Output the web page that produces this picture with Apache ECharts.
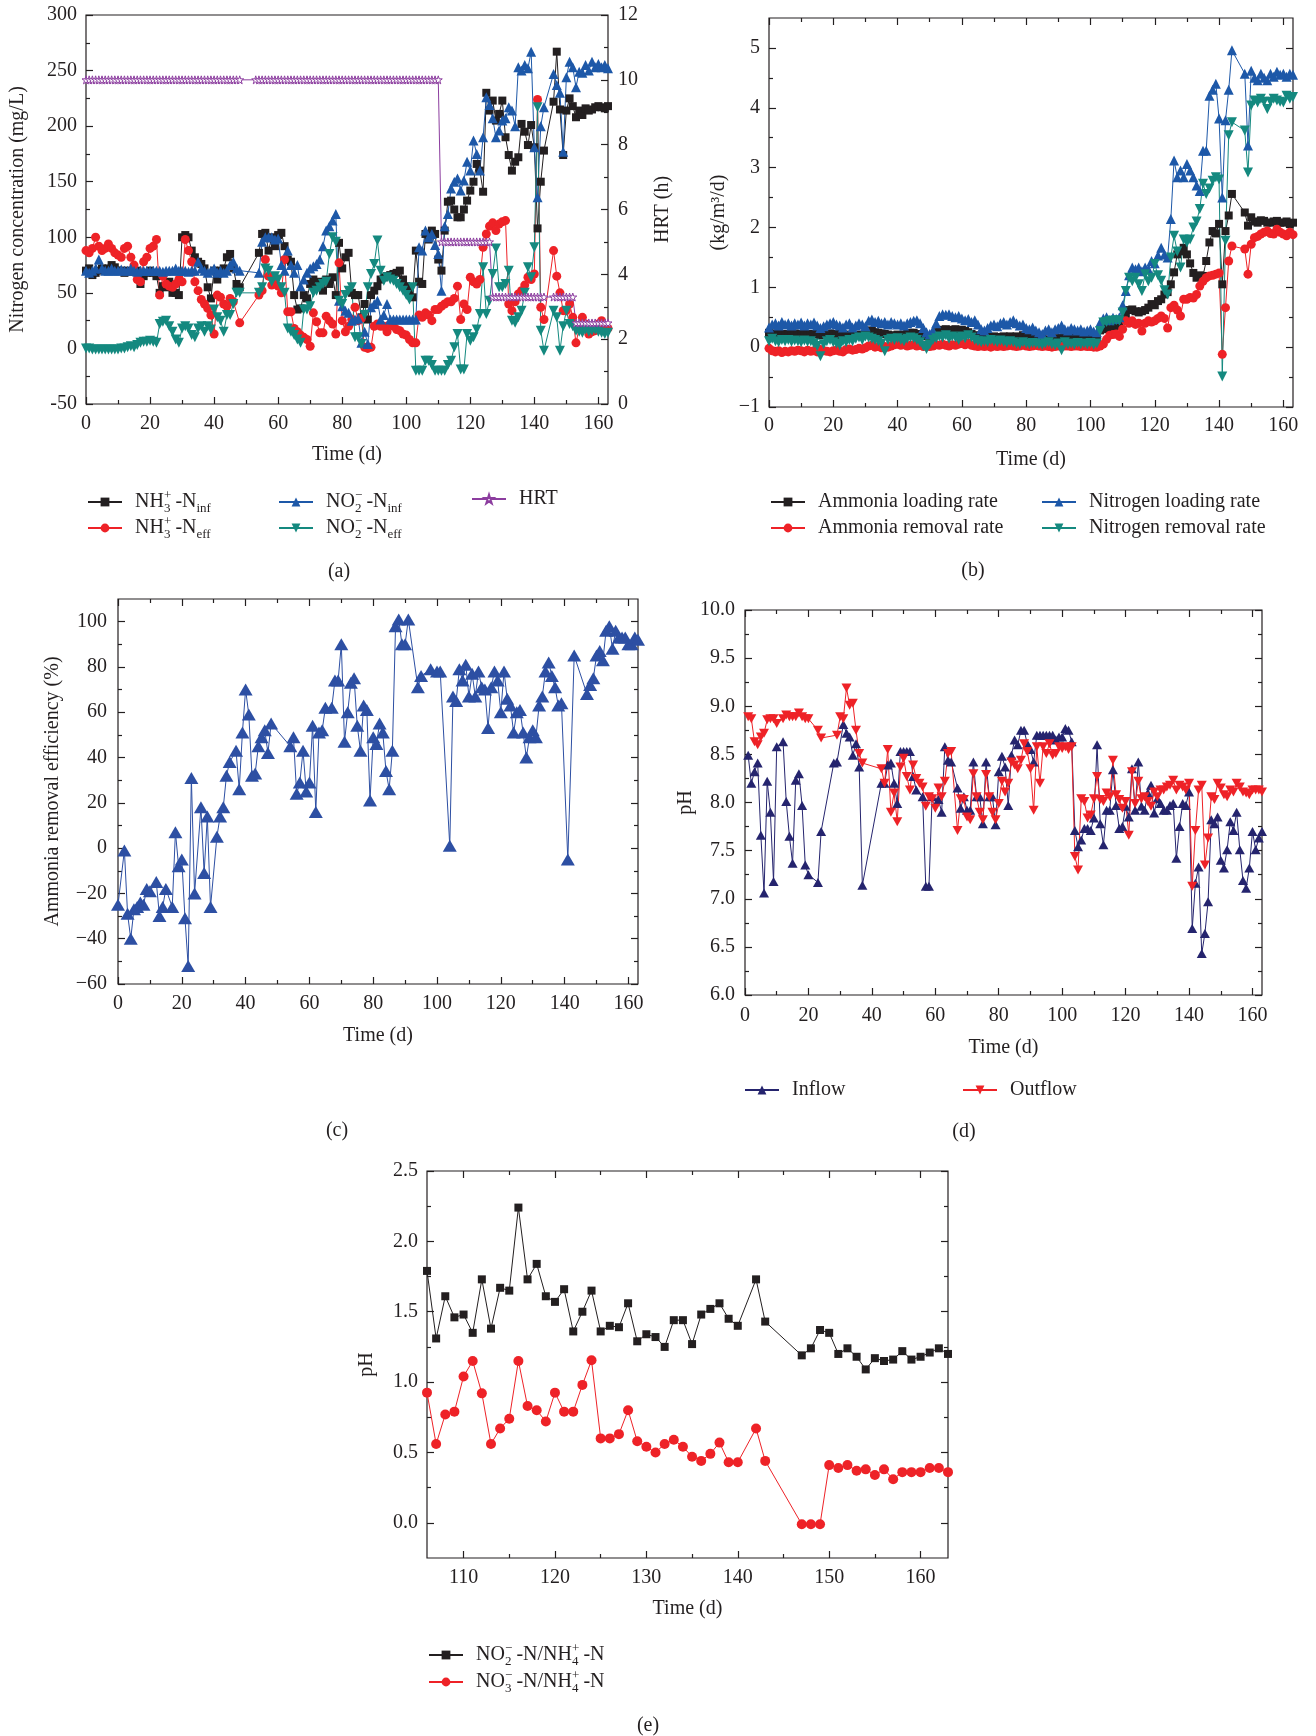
<!DOCTYPE html>
<html>
<head>
<meta charset="utf-8">
<script src="https://cdn.jsdelivr.net/npm/echarts@6/dist/echarts.min.js"></script>
<style>
html, body { margin: 0; padding: 0; background: #fff; }
#main { width: 1316px; height: 1736px; }
</style>
</head>
<body>
<div id="main"></div>
<script>
// ---------- tick labels ----------
const dayTicks = [0, 20, 40, 60, 80, 100, 120, 140, 160];
const dayMinor = [10, 30, 50, 70, 90, 110, 130, 150];
const aConcTicks = [-50, 0, 50, 100, 150, 200, 250, 300];
const aConcMinor = [-25, 25, 75, 125, 175, 225, 275];
const aHrtTicks = [0, 2, 4, 6, 8, 10, 12];
const aHrtMinor = [1, 3, 5, 7, 9, 11];
const bRateTicks = [-1, 0, 1, 2, 3, 4, 5];
const bRateMinor = [-0.5, 0.5, 1.5, 2.5, 3.5, 4.5];
const cEffTicks = [-60, -40, -20, 0, 20, 40, 60, 80, 100];
const cEffMinor = [-50, -30, -10, 10, 30, 50, 70, 90];
const dPhTicks = [6, 6.5, 7, 7.5, 8, 8.5, 9, 9.5, 10];
const dPhMinor = [6.25, 6.75, 7.25, 7.75, 8.25, 8.75, 9.25, 9.75];
const eDayTicks = [110, 120, 130, 140, 150, 160];
const eDayMinor = [115, 125, 135, 145, 155];
const eRatioTicks = [0, 0.5, 1, 1.5, 2, 2.5];
const eRatioMinor = [0.25, 0.75, 1.25, 1.75, 2.25];

// ---------- (a) nitrogen concentration, [day, mg/L] ----------
const nh3Inf = [
  [0,70],[1,72],[2,66],[3,68],[4,70],[5,72],[6,70],[7,72],[8,75],[9,73],
  [10,70],[11,70],[12,68],[13,70],[14,69],[15,70],[16,70],[17,58],[18,65],[19,68],
  [20,70],[21,68],[22,65],[23,50],[24,56],[25,55],[26,60],[27,50],[28,50],[29,48],
  [30,100],[31,102],[32,100],[33,88],[34,82],[35,78],[36,76],[37,72],[38,55],[39,45],
  [40,70],[41,62],[42,70],[43,72],[44,82],[45,85],[46,72],[47,58],[48,55],
  [54,86],[55,103],[56,104],[57,88],[58,100],[59,92],
  [60,102],[61,104],[62,92],[63,80],[64,78],[65,48],[66,35],[67,36],[68,48],[69,45],
  [70,58],[71,62],[72,55],[73,60],[74,52],[75,62],[76,58],[77,64],[78,48],[79,95],
  [80,72],[81,82],[82,86],[83,50],[84,48],[85,48],[86,28],[87,40],[88,26],[89,48],
  [90,52],[91,56],[92,62],[93,64],[94,65],[95,66],[96,67],[97,68],[98,70],[99,62],
  [100,56],[101,52],[102,46],[103,88],[104,60],[105,58],[106,103],[107,98],[108,106],[109,103],
  [110,80],[111,70],[112,106],[113,132],[114,133],[115,125],[116,118],[117,118],[118,125],[119,133],
  [120,142],[121,150],[122,166],[123,160],[124,141],[125,230],[126,214],[127,223],[128,205],[129,211],
  [130,223],[131,190],[132,174],[133,160],[134,168],[135,172],[136,202],[137,195],[138,183],[139,201],
  [140,181],[141,108],[142,150],[143,178],
  [146,222],[147,267],[148,215],[149,174],
  [150,214],[151,225],[152,218],[153,208],[154,214],[155,210],[156,216],[157,214],[158,215],[159,217],
  [160,218],[161,217],[162,216],[163,218]
];
const nh3Eff = [
  [0,88],[1,86],[2,90],[3,100],[4,92],[5,88],[6,90],[7,94],[8,90],[9,86],
  [10,84],[11,82],[12,90],[13,92],[14,82],[15,75],[16,62],[17,60],[18,78],[19,82],
  [20,90],[21,92],[22,98],[23,48],[24,65],[25,58],[26,56],[27,55],[28,58],[29,62],
  [30,60],[31,98],[32,88],[33,78],[34,60],[35,52],[36,44],[37,40],[38,36],[39,30],
  [40,13],[41,48],[42,46],[43,40],[44,38],[45,45],[46,42],[48,23],
  [54,48],[55,52],[56,80],[57,65],[58,57],[59,62],
  [60,56],[61,50],[62,80],[63,33],[64,33],[65,18],[66,15],[67,12],[68,10],[69,8],
  [70,2],[71,32],[72,24],[73,14],[74,14],[75,29],[76,25],[77,22],[78,13],[79,77],
  [80,25],[81,15],[82,20],[83,26],[84,37],[85,25],[86,27],[87,1],[88,0],[89,1],
  [90,20],[91,22],[92,20],[93,20],[94,15],[95,22],[96,20],[97,17],[98,16],[99,13],
  [100,12],[101,8],[102,5],[103,5],[104,30],[105,28],[106,32],[107,30],[108,25],[109,35],
  [110,35],[111,38],[112,40],[113,42],[114,42],[115,45],[116,56],[117,26],[118,40],[119,35],
  [120,64],[121,60],[122,58],[123,62],[124,91],[125,103],[126,110],[127,113],[128,106],[129,112],
  [130,114],[131,115],[132,40],[133,34],[134,42],[135,49],[136,52],[137,57],[138,64],[139,62],
  [140,67],[141,224],[142,37],[143,26],
  [146,88],[147,65],[148,50],[149,34],
  [150,34],[151,40],[152,28],[153,5],[154,18],[155,28],[156,22],[157,13],[158,15],[159,16],
  [160,22],[161,25],[162,20],[163,18]
];
const no2Inf = [
  [0,70],[1,68],[2,70],[3,72],[4,80],[5,72],[6,70],[7,70],[8,72],[9,70],
  [10,70],[11,71],[12,70],[13,70],[14,72],[15,70],[16,69],[17,70],[18,70],[19,70],
  [20,70],[21,70],[22,70],[23,70],[24,69],[25,70],[26,70],[27,70],[28,72],[29,70],
  [30,70],[31,70],[32,69],[33,70],[34,70],[35,78],[36,72],[37,70],[38,68],[39,70],
  [40,72],[41,68],[42,70],[43,68],[44,70],[45,75],[46,78],[47,72],[48,70],
  [54,68],[55,96],[56,100],[57,100],[58,100],[59,98],
  [60,99],[61,75],[62,70],[63,88],[64,75],[65,68],[66,75],[67,56],[68,62],[69,68],
  [70,72],[71,74],[72,76],[73,80],[74,92],[75,106],[76,110],[77,115],[78,121],[79,43],
  [80,38],[81,34],[82,32],[83,25],[84,26],[85,27],[86,5],[87,15],[88,4],[89,37],
  [90,40],[91,43],[92,26],[93,30],[94,40],[95,26],[96,26],[97,26],[98,26],[99,26],
  [100,26],[101,26],[102,26],[103,26],[104,91],[105,88],[106,106],[107,100],[108,103],[109,93],
  [110,85],[111,52],[112,110],[113,121],[114,144],[115,150],[116,153],[117,142],[118,151],[119,168],
  [120,160],[121,187],[122,175],[123,160],[124,190],[125,226],[126,219],[127,207],[128,190],[129,196],
  [130,205],[131,207],[132,217],[133,214],[134,200],[135,253],[136,250],[137,255],[138,252],[139,267],
  [140,181],[141,136],[142,200],[143,217],
  [146,247],[147,237],[148,230],[149,177],
  [150,244],[151,258],[152,253],[153,235],[154,249],[155,248],[156,255],[157,250],[158,258],[159,253],
  [160,256],[161,253],[162,255],[163,252]
];
const no2Eff = [
  [0,0],[1,0],[2,-1],[3,-1],[4,-1],[5,-1],[6,-1],[7,-1],[8,-1],[9,-1],
  [10,-1],[11,0],[12,0],[13,1],[14,2],[15,1],[16,3],[17,5],[18,6],[19,6],
  [20,7],[21,6],[22,5],[23,22],[24,24],[25,25],[26,20],[27,15],[28,8],[29,5],
  [30,18],[31,20],[32,18],[33,12],[34,10],[35,18],[36,20],[37,15],[38,20],[39,17],
  [40,35],[41,28],[42,25],[43,15],[44,30],[45,30],[46,40],[47,50],[48,50],
  [54,50],[55,55],[56,72],[57,70],[58,60],[59,65],
  [60,62],[61,55],[62,50],[63,18],[64,15],[65,12],[66,8],[67,5],[68,35],[69,35],
  [70,38],[71,50],[72,52],[73,55],[74,58],[75,60],[76,85],[77,100],[78,96],[79,43],
  [80,40],[81,48],[82,52],[83,55],[84,10],[85,10],[86,4],[87,30],[88,55],[89,67],
  [90,76],[91,97],[92,70],[93,61],[94,64],[95,62],[96,61],[97,58],[98,55],[99,52],
  [100,48],[101,44],[102,55],[103,-20],[104,-20],[105,-20],[106,-11],[107,-11],[108,-15],[109,-20],
  [110,-20],[111,-20],[112,-20],[113,-15],[114,-11],[115,1],[116,13],[117,-19],[118,-19],[119,13],
  [120,7],[121,10],[122,17],[123,31],[124,73],[125,31],[126,43],[127,67],[128,90],[129,55],
  [130,55],[131,58],[132,70],[133,25],[134,23],[135,28],[136,34],[137,50],[138,73],[139,64],
  [140,91],[141,217],[142,16],[143,-2],
  [146,34],[147,28],[148,-2],[149,20],
  [150,34],[151,22],[152,20],[153,16],[154,15],[155,14],[156,17],[157,15],[158,16],[159,17],
  [160,15],[161,14],[162,13],[163,14]
];
const hrt = [
  [0,10],[1,10],[2,10],[3,10],[4,10],[5,10],[6,10],[7,10],[8,10],[9,10],
  [10,10],[11,10],[12,10],[13,10],[14,10],[15,10],[16,10],[17,10],[18,10],[19,10],
  [20,10],[21,10],[22,10],[23,10],[24,10],[25,10],[26,10],[27,10],[28,10],[29,10],
  [30,10],[31,10],[32,10],[33,10],[34,10],[35,10],[36,10],[37,10],[38,10],[39,10],
  [40,10],[41,10],[42,10],[43,10],[44,10],[45,10],[46,10],[47,10],[48,10],
  [53,10],[54,10],[55,10],[56,10],[57,10],[58,10],[59,10],
  [60,10],[61,10],[62,10],[63,10],[64,10],[65,10],[66,10],[67,10],[68,10],[69,10],
  [70,10],[71,10],[72,10],[73,10],[74,10],[75,10],[76,10],[77,10],[78,10],[79,10],
  [80,10],[81,10],[82,10],[83,10],[84,10],[85,10],[86,10],[87,10],[88,10],[89,10],
  [90,10],[91,10],[92,10],[93,10],[94,10],[95,10],[96,10],[97,10],[98,10],[99,10],
  [100,10],[101,10],[102,10],[103,10],[104,10],[105,10],[106,10],[107,10],[108,10],[109,10],
  [110,10],[111,5],[112,5],[113,5],[114,5],[115,5],[116,5],[117,5],[118,5],[119,5],
  [120,5],[121,5],[122,5],[123,5],[124,5],[125,5],[126,5],[127,3.3],[128,3.3],[129,3.3],
  [130,3.3],[131,3.3],[132,3.3],[133,3.3],[134,3.3],[135,3.3],[136,3.3],[137,3.3],[138,3.3],[139,3.3],
  [140,3.3],[141,3.3],[142,3.3],[143,3.3],
  [146,3.3],[147,3.3],[148,3.3],[149,3.3],[150,3.3],[151,3.3],[152,3.3],
  [153,2.5],[154,2.5],[155,2.5],[156,2.5],[157,2.5],[158,2.5],[159,2.5],
  [160,2.5],[161,2.5],[162,2.5],[163,2.5]
];

// ---------- (b) loading / removal rates, [day, kg/m3/d] ----------
const ammLoad = [
  [0,0.24],[1,0.22],[2,0.23],[3,0.21],[4,0.22],[5,0.20],[6,0.22],[7,0.21],[8,0.23],[9,0.22],
  [10,0.21],[11,0.22],[12,0.20],[13,0.22],[14,0.21],[15,0.22],[16,0.20],[17,0.21],[18,0.22],[19,0.23],
  [20,0.21],[21,0.22],[22,0.20],[23,0.19],[24,0.21],[25,0.20],[26,0.19],[27,0.20],[28,0.21],[29,0.20],
  [30,0.26],[31,0.28],[32,0.27],[33,0.25],[34,0.24],[35,0.23],[36,0.22],[37,0.21],[38,0.18],[39,0.20],
  [40,0.21],[41,0.20],[42,0.21],[43,0.22],[44,0.24],[45,0.24],[46,0.22],[47,0.20],[48,0.19],[49,0.18],
  [50,0.17],[51,0.20],[52,0.25],[53,0.28],[54,0.29],[55,0.30],[56,0.28],[57,0.29],[58,0.30],[59,0.28],
  [60,0.29],[61,0.27],[62,0.25],[63,0.22],[64,0.20],[65,0.17],[66,0.15],[67,0.16],[68,0.17],[69,0.16],
  [70,0.18],[71,0.17],[72,0.16],[73,0.18],[74,0.17],[75,0.18],[76,0.17],[77,0.18],[78,0.16],[79,0.20],
  [80,0.18],[81,0.17],[82,0.18],[83,0.16],[84,0.15],[85,0.14],[86,0.12],[87,0.13],[88,0.12],[89,0.14],
  [90,0.15],[91,0.16],[92,0.17],[93,0.17],[94,0.18],[95,0.18],[96,0.18],[97,0.19],[98,0.19],[99,0.17],
  [100,0.16],[101,0.15],[102,0.14],[103,0.28],[104,0.30],[105,0.32],[106,0.33],[107,0.35],[108,0.36],[109,0.35],
  [110,0.45],[111,0.55],[112,0.62],[113,0.63],[114,0.60],[115,0.58],[116,0.60],[117,0.62],[118,0.66],[119,0.72],
  [120,0.70],[121,0.77],[122,0.80],[123,0.88],[124,0.92],[125,1.05],[126,1.25],[127,1.55],[128,1.60],[129,1.66],
  [130,1.55],[131,1.40],[132,1.24],[133,1.16],[134,1.20],[135,1.19],[136,1.44],[137,1.75],[138,1.94],[139,1.90],
  [140,2.06],[141,1.05],[142,1.94],[143,2.20],[144,2.56],
  [148,2.25],[149,2.03],[150,2.17],[151,2.10],[152,2.08],[153,2.12],[154,2.11],[155,2.08],[156,2.08],[157,2.10],
  [158,2.11],[159,2.08],[160,2.08],[161,2.10],[162,2.06],[163,2.08]
];
const ammRem = [
  [0,-0.02],[1,-0.06],[2,-0.08],[3,-0.06],[4,-0.09],[5,-0.07],[6,-0.08],[7,-0.06],[8,-0.07],[9,-0.05],
  [10,-0.06],[11,-0.08],[12,-0.05],[13,-0.07],[14,-0.06],[15,-0.08],[16,-0.04],[17,-0.06],[18,-0.07],[19,-0.08],
  [20,-0.06],[21,-0.05],[22,-0.07],[23,-0.08],[24,-0.04],[25,-0.03],[26,-0.05],[27,-0.04],[28,-0.02],[29,-0.03],
  [30,-0.01],[31,0.02],[32,0.03],[33,0.00],[34,0.01],[35,-0.01],[36,0.01],[37,0.00],[38,0.02],[39,0.04],
  [40,0.05],[41,0.03],[42,0.04],[43,0.02],[44,0.03],[45,0.04],[46,0.02],[47,0.03],[48,0.01],[49,0.02],
  [50,0.01],[51,0.02],[52,0.04],[53,0.03],[54,0.05],[55,0.03],[56,0.02],[57,0.04],[58,0.03],[59,0.05],
  [60,0.06],[61,0.04],[62,0.07],[63,0.03],[64,0.02],[65,0.01],[66,0.02],[67,0.01],[68,0.02],[69,0.00],
  [70,0.02],[71,0.01],[72,0.02],[73,0.01],[74,0.02],[75,0.03],[76,0.02],[77,0.01],[78,0.02],[79,0.04],
  [80,0.02],[81,0.01],[82,0.02],[83,0.03],[84,0.02],[85,0.01],[86,0.02],[87,0.01],[88,0.00],[89,0.01],
  [90,0.02],[91,0.01],[92,0.02],[93,0.02],[94,0.01],[95,0.02],[96,0.02],[97,0.01],[98,0.02],[99,0.01],
  [100,0.01],[101,0.00],[102,0.00],[103,0.02],[104,0.05],[105,0.13],[106,0.20],[107,0.21],[108,0.22],[109,0.18],
  [110,0.30],[111,0.44],[112,0.40],[113,0.44],[114,0.38],[115,0.40],[116,0.27],[117,0.40],[118,0.44],[119,0.42],
  [120,0.44],[121,0.48],[122,0.52],[123,0.48],[124,0.32],[125,0.66],[126,0.70],[127,0.62],[128,0.52],[129,0.80],
  [130,0.80],[131,0.83],[132,0.82],[133,0.88],[134,1.02],[135,1.10],[136,1.16],[137,1.19],[138,1.20],[139,1.22],
  [140,1.24],[141,-0.12],[142,0.66],[143,1.44],[144,1.69],
  [148,1.64],[149,1.22],[150,1.72],[151,1.83],[152,1.85],[153,1.89],[154,1.92],[155,1.94],[156,1.90],[157,1.89],
  [158,1.97],[159,1.92],[160,1.89],[161,1.86],[162,1.92],[163,1.88]
];
const nLoad = [
  [0,0.33],[1,0.38],[2,0.40],[3,0.36],[4,0.42],[5,0.38],[6,0.40],[7,0.36],[8,0.40],[9,0.38],
  [10,0.41],[11,0.36],[12,0.40],[13,0.38],[14,0.41],[15,0.36],[16,0.32],[17,0.35],[18,0.38],[19,0.40],
  [20,0.42],[21,0.38],[22,0.36],[23,0.33],[24,0.38],[25,0.40],[26,0.33],[27,0.36],[28,0.40],[29,0.38],
  [30,0.35],[31,0.44],[32,0.46],[33,0.42],[34,0.44],[35,0.40],[36,0.42],[37,0.38],[38,0.42],[39,0.40],
  [40,0.38],[41,0.40],[42,0.36],[43,0.40],[44,0.42],[45,0.44],[46,0.45],[47,0.40],[48,0.32],[49,0.25],
  [50,0.22],[51,0.28],[52,0.40],[53,0.52],[54,0.55],[55,0.54],[56,0.55],[57,0.52],[58,0.50],[59,0.52],
  [60,0.48],[61,0.45],[62,0.47],[63,0.42],[64,0.45],[65,0.38],[66,0.30],[67,0.28],[68,0.32],[69,0.36],
  [70,0.38],[71,0.35],[72,0.40],[73,0.42],[74,0.38],[75,0.42],[76,0.45],[77,0.40],[78,0.36],[79,0.38],
  [80,0.32],[81,0.30],[82,0.33],[83,0.28],[84,0.25],[85,0.22],[86,0.28],[87,0.30],[88,0.25],[89,0.30],
  [90,0.32],[91,0.36],[92,0.30],[93,0.28],[94,0.32],[95,0.30],[96,0.28],[97,0.30],[98,0.26],[99,0.28],
  [100,0.30],[101,0.26],[102,0.25],[103,0.41],[104,0.48],[105,0.50],[106,0.45],[107,0.49],[108,0.47],[109,0.50],
  [110,0.70],[111,0.94],[112,1.20],[113,1.33],[114,1.30],[115,1.33],[116,1.27],[117,1.33],[118,1.30],[119,1.44],
  [120,1.40],[121,1.53],[122,1.66],[123,1.55],[124,1.50],[125,2.14],[126,3.12],[127,2.84],[128,2.95],[129,2.84],
  [130,3.06],[131,2.95],[132,2.84],[133,2.70],[134,2.61],[135,3.28],[136,3.28],[137,4.20],[138,4.30],[139,4.40],
  [140,3.82],[141,2.50],[142,3.79],[143,4.30],[144,4.96],
  [148,4.57],[149,3.37],[150,4.62],[151,4.50],[152,4.46],[153,4.57],[154,4.50],[155,4.46],[156,4.57],[157,4.52],
  [158,4.60],[159,4.55],[160,4.57],[161,4.52],[162,4.57],[163,4.55]
];
const nRem = [
  [0,0.10],[1,0.14],[2,0.10],[3,0.08],[4,0.12],[5,0.10],[6,0.12],[7,0.09],[8,0.11],[9,0.10],
  [10,0.08],[11,0.11],[12,0.09],[13,0.10],[14,0.06],[15,0.02],[16,-0.15],[17,0.05],[18,0.10],[19,0.12],
  [20,0.08],[21,0.06],[22,0.03],[23,0.10],[24,0.08],[25,0.12],[26,0.10],[27,0.14],[28,0.16],[29,0.12],
  [30,0.18],[31,0.16],[32,0.14],[33,0.12],[34,0.10],[35,0.06],[36,-0.07],[37,0.12],[38,0.14],[39,0.12],
  [40,0.15],[41,0.12],[42,0.10],[43,0.14],[44,0.16],[45,0.15],[46,0.12],[47,0.08],[48,0.02],[49,-0.03],
  [50,0.05],[51,0.12],[52,0.15],[53,0.18],[54,0.16],[55,0.20],[56,0.14],[57,0.18],[58,0.16],[59,0.12],
  [60,0.18],[61,0.15],[62,0.20],[63,0.16],[64,0.12],[65,0.10],[66,0.08],[67,0.10],[68,0.08],[69,0.12],
  [70,0.10],[71,0.08],[72,0.11],[73,0.09],[74,0.07],[75,0.10],[76,0.08],[77,0.06],[78,0.05],[79,0.08],
  [80,0.06],[81,0.05],[82,0.07],[83,0.06],[84,0.05],[85,0.04],[86,0.06],[87,0.08],[88,0.05],[89,0.03],
  [90,0.06],[91,-0.05],[92,0.08],[93,0.05],[94,0.06],[95,0.04],[96,0.07],[97,0.05],[98,0.06],[99,0.05],
  [100,0.07],[101,0.04],[102,0.06],[103,0.27],[104,0.41],[105,0.42],[106,0.44],[107,0.44],[108,0.45],[109,0.44],
  [110,0.58],[111,0.94],[112,1.16],[113,1.10],[114,1.16],[115,1.05],[116,0.94],[117,1.22],[118,1.10],[119,1.16],
  [120,1.39],[121,1.20],[122,1.11],[123,0.95],[124,0.88],[125,1.50],[126,1.86],[127,1.60],[128,1.33],[129,1.80],
  [130,1.75],[131,1.80],[132,2.00],[133,2.10],[134,2.31],[135,2.73],[136,2.56],[137,2.65],[138,2.78],[139,2.84],
  [140,2.80],[141,-0.49],[142,1.78],[143,3.54],[144,3.76],
  [148,3.62],[149,2.92],[150,4.04],[151,4.12],[152,4.09],[153,4.15],[154,4.10],[155,3.98],[156,4.10],[157,4.15],
  [158,4.12],[159,4.10],[160,4.09],[161,4.20],[162,4.15],[163,4.18]
];

// ---------- (c) ammonia removal efficiency, [day, %] ----------
const ammEff = [
  [0,-25],[2,-1],[3,-29],[4,-40],[5,-27],[6,-26],[7,-24],[8,-25],[9,-18],[10,-19],
  [12,-15],[13,-30],[14,-26],[15,-18],[17,-26],[18,7],[19,-8],[20,-5],[21,-31],[22,-52],
  [23,31],[24,-20],[26,18],[27,-11],[28,14],[29,-26],[31,5],[32,14],[33,18],[34,32],
  [35,38],[37,43],[38,26],[39,51],[40,70],[41,59],[42,32],[43,33],[44,45],[45,49],
  [46,52],[47,42],[48,55],[54,45],[55,49],[56,24],[57,29],[58,43],[59,25],[60,29],
  [61,54],[62,16],[63,51],[64,52],[65,62],[67,62],[68,74],[69,74],[70,90],[71,47],
  [72,60],[73,73],[74,75],[75,54],[76,43],[77,63],[78,61],[79,21],[80,49],[81,46],
  [82,55],[83,51],[84,34],[85,26],[86,43],[87,98],[88,101],[89,90],[90,90],[91,101],
  [94,71],[95,76],[98,79],[100,78],[101,78],[104,1],[105,67],[106,65],[107,79],[108,74],
  [109,81],[110,67],[111,77],[112,67],[113,78],[114,71],[115,70],[116,53],[117,71],[118,78],
  [119,74],[120,60],[121,78],[122,66],[123,63],[124,51],[125,60],[126,61],[127,51],[128,40],
  [129,49],[130,52],[131,49],[132,63],[133,67],[134,78],[135,82],[136,76],[137,71],[138,63],
  [139,64],[141,-5],[143,85],[147,68],[148,72],[149,75],[150,85],[151,87],[152,83],[153,96],
  [154,98],[155,88],[156,96],[157,93],[158,93],[159,93],[160,90],[161,90],[162,93],[163,92]
];

// ---------- (d) pH, [day, pH] ----------
const phIn = [
  [1,8.49],[2,8.20],[3,8.32],[4,8.41],[5,7.66],[6,7.06],[7,8.22],[8,7.90],[9,7.18],[10,8.58],
  [12,8.63],[13,8.01],[14,7.65],[15,7.37],[16,8.23],[17,8.30],[18,7.97],[19,7.35],[20,7.25],
  [23,7.17],[24,7.70],[28,8.41],[29,8.42],[31,8.81],[32,8.72],[33,8.68],[34,8.49],[35,8.61],[36,8.37],
  [37,7.14],[43,8.20],[44,8.20],[45,8.39],[46,8.41],[47,8.20],[48,7.99],[49,8.53],[50,8.53],
  [51,8.53],[52,8.53],[53,8.27],[54,8.13],[56,8.06],[57,7.13],[58,7.13],[59,8.06],[61,8.03],[62,7.90],
  [63,8.58],[64,8.44],[65,8.42],[67,8.15],[68,7.94],[69,8.06],[70,7.92],[71,7.92],[72,8.42],[73,8.06],
  [74,8.06],[75,7.78],[76,8.42],[77,8.06],[78,8.06],[79,7.77],[80,8.32],[81,8.48],[82,8.37],[83,7.97],
  [84,8.49],[85,8.65],[86,8.60],[87,8.75],[88,8.75],[89,8.61],[90,8.55],[91,8.42],[92,8.70],[93,8.70],
  [94,8.70],[95,8.70],[96,8.70],[97,8.70],[98,8.65],[99,8.68],[100,8.68],[101,8.77],[102,8.75],[103,8.63],
  [104,7.71],[105,7.54],[106,7.61],[107,7.73],[108,7.73],[109,7.71],[110,7.84],[111,8.60],[112,7.78],[113,7.56],
  [114,7.92],[115,7.92],[116,8.34],[117,7.97],[118,7.73],[119,7.75],[120,7.96],[121,7.85],[122,8.35],[123,7.92],
  [124,8.42],[125,7.96],[126,7.92],[127,8.10],[128,8.18],[129,7.89],[130,8.04],[131,7.99],[132,7.92],[133,7.92],
  [134,7.97],[135,7.99],[136,7.42],[137,7.75],[138,7.99],[139,7.97],[140,8.11],[141,6.69],[142,7.16],[143,7.33],
  [144,6.43],[145,6.64],[146,6.97],[147,7.82],[148,7.78],[149,7.85],[150,7.40],[151,7.32],[152,7.51],[153,7.80],
  [154,7.71],[155,7.90],[156,7.51],[157,7.19],[158,7.11],[159,7.32],[160,7.70],[161,7.51],[162,7.63],[163,7.70]
];
const phOut = [
  [1,8.89],[2,8.87],[3,8.63],[4,8.60],[5,8.68],[6,8.72],[7,8.86],[8,8.87],[9,8.87],[10,8.82],
  [12,8.87],[13,8.91],[14,8.89],[15,8.89],[16,8.89],[17,8.93],[18,8.89],[19,8.87],[20,8.87],
  [23,8.75],[24,8.67],[29,8.70],[30,8.89],[31,8.87],[32,9.19],[33,9.01],[34,9.03],[35,8.75],[36,8.51],
  [37,8.41],[43,8.35],[44,8.20],[45,8.55],[46,7.90],[47,8.10],[48,7.80],[49,8.37],[50,8.46],
  [51,8.27],[52,8.13],[53,8.39],[54,8.25],[55,8.20],[56,8.16],[57,7.96],[58,8.06],[59,8.04],[60,7.94],
  [61,8.15],[62,8.06],[63,8.22],[64,8.51],[65,8.53],[67,7.71],[68,8.04],[69,8.03],[70,7.85],[71,7.82],
  [72,8.30],[73,8.06],[74,7.90],[75,7.82],[76,8.29],[77,8.06],[78,7.90],[79,7.82],[80,7.99],[81,8.22],
  [82,8.11],[83,8.20],[84,8.42],[85,8.39],[86,8.35],[87,8.44],[88,8.61],[89,8.53],[90,8.35],[91,7.92],
  [92,8.58],[93,8.20],[94,8.58],[95,8.51],[96,8.61],[97,8.49],[98,8.51],[99,8.58],[100,8.56],[101,8.58],
  [102,8.55],[103,8.58],[104,7.44],[105,7.30],[106,8.04],[107,8.01],[108,7.84],[109,7.87],[110,8.04],[111,8.27],
  [112,8.03],[113,8.01],[114,8.10],[115,8.06],[116,8.44],[117,8.08],[118,8.03],[119,7.94],[120,8.01],[121,7.66],
  [122,8.32],[123,7.99],[124,8.22],[125,8.04],[126,8.06],[127,8.01],[128,7.96],[129,8.11],[130,8.06],[131,8.13],
  [132,8.13],[133,8.16],[134,8.18],[135,8.23],[136,8.13],[137,8.18],[138,8.16],[139,8.13],[140,8.20],[141,7.13],
  [142,7.71],[143,8.13],[144,8.18],[145,7.35],[146,7.63],[147,8.06],[148,8.03],[149,8.20],[150,8.15],[151,8.08],
  [152,8.06],[153,8.13],[154,8.11],[155,8.20],[156,8.16],[157,8.11],[158,8.10],[159,8.08],[160,8.13],[161,8.13],
  [162,8.13],[163,8.11]
];

// ---------- (e) ratios, [day, ratio] ----------
const no2Ratio = [
  [106,1.79],[107,1.31],[108,1.61],[109,1.46],[110,1.48],[111,1.35],[112,1.73],[113,1.38],[114,1.67],[115,1.65],
  [116,2.24],[117,1.73],[118,1.84],[119,1.61],[120,1.57],[121,1.66],[122,1.36],[123,1.50],[124,1.65],[125,1.36],
  [126,1.40],[127,1.39],[128,1.56],[129,1.29],[130,1.34],[131,1.32],[132,1.25],[133,1.44],[134,1.44],[135,1.27],
  [136,1.48],[137,1.52],[138,1.56],[139,1.45],[140,1.40],[142,1.73],[143,1.43],[147,1.19],[148,1.24],[149,1.37],
  [150,1.35],[151,1.20],[152,1.24],[153,1.18],[154,1.09],[155,1.17],[156,1.15],[157,1.16],[158,1.22],[159,1.16],
  [160,1.18],[161,1.21],[162,1.24],[163,1.20]
];
const no3Ratio = [
  [106,0.925],[107,0.56],[108,0.77],[109,0.79],[110,1.04],[111,1.15],[112,0.92],[113,0.56],[114,0.67],[115,0.74],
  [116,1.15],[117,0.83],[118,0.80],[119,0.72],[120,0.925],[121,0.79],[122,0.79],[123,0.98],[124,1.155],[125,0.60],
  [126,0.60],[127,0.63],[128,0.80],[129,0.58],[130,0.54],[131,0.50],[132,0.56],[133,0.59],[134,0.54],[135,0.47],
  [136,0.44],[137,0.49],[138,0.57],[139,0.43],[140,0.43],[142,0.67],[143,0.44],[147,-0.01],[148,-0.01],[149,-0.01],
  [150,0.41],[151,0.39],[152,0.41],[153,0.37],[154,0.38],[155,0.34],[156,0.38],[157,0.31],[158,0.36],[159,0.36],
  [160,0.36],[161,0.39],[162,0.39],[163,0.36]
];

// ---------- styling ----------
const FONT = '"Liberation Serif", "DejaVu Serif", serif';
const FS = 20;
const INK = '#231f20';
const C_BLACK = '#231f20', C_RED = '#ee2227', C_BLUE = '#1d58a8', C_TEAL = '#14897f', C_PURPLE = '#8c3d9f';
const C_BLUEC = '#2d4fa3', C_NAVY = '#25246e';
const STAR = 'path://M50,2 L61,36 L97,36 L68,57 L79,92 L50,71 L21,92 L32,57 L3,36 L39,36 Z';

const xAxes = [];
const yAxes = [];

function addAxis(list, o) {
  list.push({
    type: 'value', gridIndex: o.grid, position: o.pos, min: o.min, max: o.max,
    axisLine: { show: false, onZero: false },
    axisTick: { show: true, inside: true, length: o.len, customValues: o.ticks,
      lineStyle: { color: INK, width: 1.2 } },
    axisLabel: o.labels ? { show: true, customValues: o.labels, formatter: o.fmt, margin: o.margin,
      fontFamily: FONT, fontSize: FS, color: INK } : { show: false },
    splitLine: { show: false },
    name: o.name || '', nameLocation: 'middle', nameGap: o.nameGap || 0, nameRotate: o.rot,
    nameTextStyle: { fontFamily: FONT, fontSize: FS, color: INK }
  });
  return list.length - 1;
}

// one side of a frame: major ticks (with optional labels) + short minor ticks
function side(list, grid, pos, min, max, major, minor, lab) {
  const idx = addAxis(list, Object.assign({ grid, pos, min, max, ticks: major, len: 7 }, lab || {}));
  addAxis(list, { grid, pos, min, max, ticks: minor, len: 4 });
  return idx;
}

const hyphen = v => String(v);
const minus = v => (v < 0 ? '\u2212' + (-v) : String(v));
const oneDec = v => v.toFixed(1);

const grids = [
  { left: 86, top: 15, width: 522, height: 389 },
  { left: 769, top: 18, width: 524, height: 389 },
  { left: 118, top: 599, width: 520, height: 385 },
  { left: 745, top: 610, width: 517, height: 385 },
  { left: 427, top: 1171, width: 521, height: 387 }
].map(g => Object.assign({ show: true, borderColor: INK, borderWidth: 1.2, backgroundColor: 'transparent' }, g));

// (a)
const ax = side(xAxes, 0, 'bottom', 0, 163, dayTicks, dayMinor,
  { labels: dayTicks, fmt: hyphen, margin: 10, name: 'Time (d)', nameGap: 41 });
const ay = side(yAxes, 0, 'left', -50, 300, aConcTicks, aConcMinor,
  { labels: aConcTicks, fmt: hyphen, margin: 9, name: 'Nitrogen concentration (mg/L)', nameGap: 58, rot: 90 });
const ayr = side(yAxes, 0, 'right', 0, 12, aHrtTicks, aHrtMinor,
  { labels: aHrtTicks, fmt: hyphen, margin: 10, name: 'HRT (h)', nameGap: 45, rot: 90 });

// (b)
const bx = side(xAxes, 1, 'bottom', 0, 163, dayTicks, dayMinor,
  { labels: dayTicks, fmt: hyphen, margin: 9, name: 'Time (d)', nameGap: 43 });
side(xAxes, 1, 'top', 0, 163, dayTicks, dayMinor);
const by = side(yAxes, 1, 'left', -1, 5.5, bRateTicks, bRateMinor,
  { labels: bRateTicks, fmt: minus, margin: 9, name: '(kg/m\u00b3/d)', nameGap: 40, rot: 90 });
side(yAxes, 1, 'right', -1, 5.5, bRateTicks, bRateMinor);

// (c)
const cx = side(xAxes, 2, 'bottom', 0, 163, dayTicks, dayMinor,
  { labels: dayTicks, fmt: hyphen, margin: 10, name: 'Time (d)', nameGap: 42 });
side(xAxes, 2, 'top', 0, 163, dayTicks, dayMinor);
const cy = side(yAxes, 2, 'left', -60, 110, cEffTicks, cEffMinor,
  { labels: cEffTicks, fmt: minus, margin: 11, name: 'Ammonia removal efficiency (%)', nameGap: 55, rot: 90 });
side(yAxes, 2, 'right', -60, 110, cEffTicks, cEffMinor);

// (d)
const dx = side(xAxes, 3, 'bottom', 0, 163, dayTicks, dayMinor,
  { labels: dayTicks, fmt: hyphen, margin: 11, name: 'Time (d)', nameGap: 43 });
side(xAxes, 3, 'top', 0, 163, dayTicks, dayMinor);
const dy = side(yAxes, 3, 'left', 6, 10, dPhTicks, dPhMinor,
  { labels: dPhTicks, fmt: oneDec, margin: 10, name: 'pH', nameGap: 49, rot: 90 });
side(yAxes, 3, 'right', 6, 10, dPhTicks, dPhMinor);

// (e)
const ex = side(xAxes, 4, 'bottom', 106, 163, eDayTicks, eDayMinor,
  { labels: eDayTicks, fmt: hyphen, margin: 10, name: 'Time (d)', nameGap: 41 });
side(xAxes, 4, 'top', 106, 163, eDayTicks, eDayMinor);
const ey = side(yAxes, 4, 'left', -0.25, 2.5, eRatioTicks, eRatioMinor,
  { labels: eRatioTicks, fmt: oneDec, margin: 9, name: 'pH', nameGap: 50, rot: 90 });
side(yAxes, 4, 'right', -0.25, 2.5, eRatioTicks, eRatioMinor);

function line(name, data, xi, yi, color, symbol, size, extra) {
  return Object.assign({
    name, type: 'line', data, xAxisIndex: xi, yAxisIndex: yi,
    symbol, symbolSize: size, showAllSymbol: true, connectNulls: true,
    lineStyle: { color, width: 1 }, itemStyle: { color },
    emphasis: { disabled: true }, z: 3
  }, extra || {});
}
const down = { symbolRotate: 180 };

const series = [
  line('NH3inf', nh3Inf, ax, ay, C_BLACK, 'rect', 8),
  line('NH3eff', nh3Eff, ax, ay, C_RED, 'circle', 9),
  line('NO2inf', no2Inf, ax, ay, C_BLUE, 'triangle', 10),
  line('NO2eff', no2Eff, ax, ay, C_TEAL, 'triangle', 10, down),
  line('HRT', hrt, ax, ayr, C_PURPLE, STAR, 8, {
    itemStyle: { color: '#fff', borderColor: C_PURPLE, borderWidth: 1 } }),

  line('Ammonia loading rate', ammLoad, bx, by, C_BLACK, 'rect', 8),
  line('Ammonia removal rate', ammRem, bx, by, C_RED, 'circle', 9),
  line('Nitrogen loading rate', nLoad, bx, by, C_BLUE, 'triangle', 10),
  line('Nitrogen removal rate', nRem, bx, by, C_TEAL, 'triangle', 10, down),

  line('Ammonia removal efficiency', ammEff, cx, cy, C_BLUEC, 'triangle', [14, 12]),

  line('Inflow', phIn, dx, dy, C_NAVY, 'triangle', [10, 9]),
  line('Outflow', phOut, dx, dy, C_RED, 'triangle', [10, 9], down),

  line('NO2ratio', no2Ratio, ex, ey, C_BLACK, 'rect', 8),
  line('NO3ratio', no3Ratio, ex, ey, C_RED, 'circle', 10)
];

// legend labels with stacked super/subscripts
const legendText = {
  NH3inf: '{n|NH}{sp|+}{sb|3}{n| -N}{sb|inf}',
  NH3eff: '{n|NH}{sp|+}{sb|3}{n| -N}{sb|eff}',
  NO2inf: '{n|NO}{sp|\u2212}{sb|2}{n| -N}{sb|inf}',
  NO2eff: '{n|NO}{sp|\u2212}{sb|2}{n| -N}{sb|eff}',
  HRT: '{n|HRT}',
  NO2ratio: '{n|NO}{sp|\u2212}{sb|2}{n| -N/NH}{sp|+}{sb|4}{n| -N}',
  NO3ratio: '{n|NO}{sp|\u2212}{sb|3}{n| -N/NH}{sp|+}{sb|4}{n| -N}'
};
const legRich = {
  n: { fontFamily: FONT, fontSize: FS, color: INK, lineHeight: 26 },
  sp: { fontFamily: FONT, fontSize: 13, color: INK, lineHeight: 13, verticalAlign: 'top', width: 0 },
  sb: { fontFamily: FONT, fontSize: 13, color: INK, lineHeight: 13, verticalAlign: 'bottom' }
};
function legend(names, left, top, gap, rich) {
  return {
    data: names, left, top, orient: 'vertical', itemWidth: 34, itemHeight: 11, itemGap: gap,
    selectedMode: false, padding: 0,
    formatter: rich ? (n => legendText[n]) : undefined,
    textStyle: rich ? { rich: legRich, padding: [0, 0, 0, 8] }
                    : { fontFamily: FONT, fontSize: FS, color: INK, lineHeight: 24, padding: [0, 0, 0, 8] }
  };
}

const option = {
  animation: false,
  backgroundColor: '#fff',
  grid: grids,
  xAxis: xAxes,
  yAxis: yAxes,
  series,
  legend: [
    legend(['NH3inf', 'NH3eff'], 87, 489, 0, true),
    legend(['NO2inf', 'NO2eff'], 278, 489, 0, true),
    legend(['HRT'], 471, 489, 0, true),
    legend(['Ammonia loading rate', 'Ammonia removal rate'], 770, 490, 2, false),
    legend(['Nitrogen loading rate', 'Nitrogen removal rate'], 1041, 490, 2, false),
    legend(['Inflow'], 744, 1078, 2, false),
    legend(['Outflow'], 962, 1078, 2, false),
    legend(['NO2ratio', 'NO3ratio'], 428, 1642, 1, true)
  ],
  graphic: [
    ['(a)', 339, 572], ['(b)', 973, 571], ['(c)', 337, 1131], ['(d)', 964, 1132], ['(e)', 648, 1726]
  ].map(p => ({
    type: 'text', x: p[1], y: p[2],
    style: { text: p[0], font: FS + 'px ' + FONT, fill: INK, align: 'center', verticalAlign: 'middle' }
  }))
};

const chart = echarts.init(document.getElementById('main'));
chart.setOption(option);
</script>
</body>
</html>
